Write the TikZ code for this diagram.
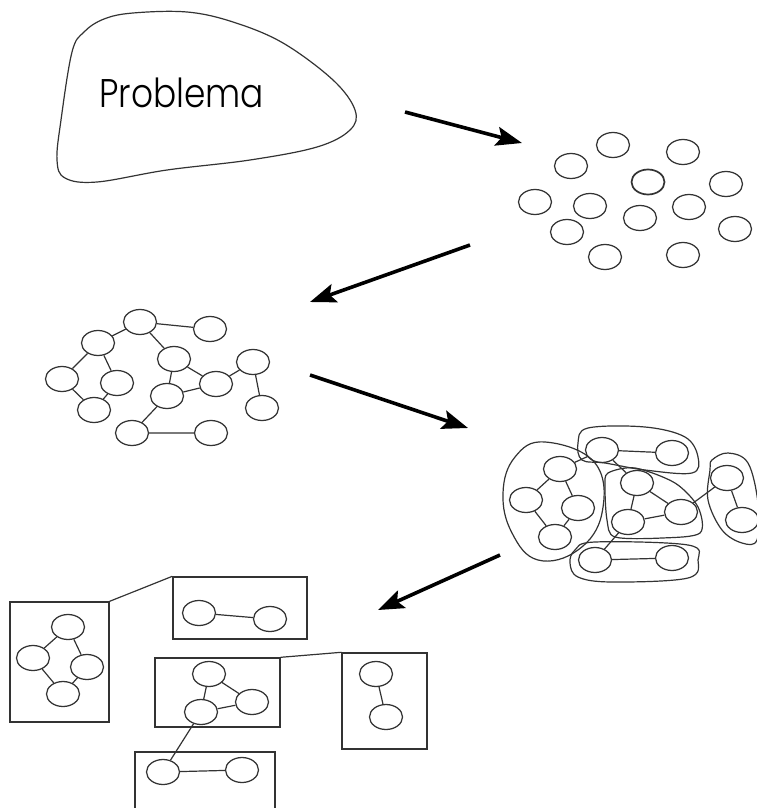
\documentclass[tikz,border=0pt]{standalone}
\usepackage{fontspec}
\newfontfamily\blobfont{Poppins}[UprightFont={* Light}]
\usetikzlibrary{shapes.geometric,arrows.meta}
\definecolor{linegray}{HTML}{333333}
\begin{document}
\begin{tikzpicture}[x=1pt,y=-1pt,
  cell/.style={draw=linegray, line width=1.25pt, ellipse, minimum width=33pt, minimum height=25pt, inner sep=0pt},
  link/.style={draw=linegray, line width=1.2pt},
  hull/.style={draw=linegray, line width=1.2pt},
  frame/.style={draw=linegray, line width=1.4pt, rectangle, inner sep=0pt},
  flow/.style={draw=black, line width=3.6pt, -{Stealth[length=26pt,width=19pt,inset=5pt]}}
]
\useasboundingbox (0,0) rectangle (757,808);

% --- the problem as a whole ---
\draw[hull, line width=1.2pt] plot[smooth cycle, tension=0.6] coordinates {
  (72,52) (84,32) (104,19) (133,13) (187,12) (233,22) (283,43) (333,80) (355,110) (350,130)
  (317,147) (250,160) (167,170) (97,182) (65,178) (57,160) (61,120)};
\node[font=\blobfont\fontsize{40}{40}\selectfont, anchor=base west, inner sep=0pt, xscale=0.86] (title) at (99,107) {Problema};

% --- loose pieces ---
\node[cell] (p1) at (613,145) {};
\node[cell] (p2) at (683,152) {};
\node[cell] (p3) at (571,166) {};
\node[cell, line width=1.7pt] (p4) at (648,182) {};
\node[cell] (p5) at (726,184) {};
\node[cell] (p6) at (535,202) {};
\node[cell] (p7) at (590,206) {};
\node[cell] (p8) at (689,207) {};
\node[cell] (p9) at (640,218) {};
\node[cell] (p10) at (567,232) {};
\node[cell] (p11) at (735,229) {};
\node[cell] (p12) at (605,257) {};
\node[cell] (p13) at (683,255) {};

% --- pieces linked into a graph ---
\node[cell] (gA) at (140,322) {};
\node[cell] (gB) at (210,329) {};
\node[cell] (gC) at (98,343) {};
\node[cell] (gD) at (174,359) {};
\node[cell] (gE) at (253,362) {};
\node[cell] (gF) at (62,379) {};
\node[cell] (gG) at (117,383) {};
\node[cell] (gH) at (216,384) {};
\node[cell] (gI) at (167,396) {};
\node[cell] (gJ) at (94,410) {};
\node[cell] (gK) at (262,408) {};
\node[cell] (gL) at (132,433) {};
\node[cell] (gM) at (211,433) {};
\draw[link] (gA) -- (gB) (gA) -- (gC) (gA) -- (gD) (gC) -- (gF) (gC) -- (gG)
  (gF) -- (gJ) (gG) -- (gJ) (gD) -- (gH) (gD) -- (gI) (gI) -- (gH)
  (gH) -- (gE) (gE) -- (gK) (gI) -- (gL) (gL) -- (gM);

% --- the graph split into groups ---
\node[cell] (c1) at (602,450) {};
\node[cell] (c2) at (672,453) {};
\node[cell] (c3) at (560,469) {};
\node[cell] (c4) at (637,483) {};
\node[cell] (c5) at (727,478) {};
\node[cell] (c6) at (526,500) {};
\node[cell] (c7) at (578,508) {};
\node[cell] (c8) at (681,512) {};
\node[cell] (c9) at (628,522) {};
\node[cell] (c10) at (742,520) {};
\node[cell] (c11) at (555,537) {};
\node[cell] (c12) at (595,560) {};
\node[cell] (c13) at (672,558) {};
\draw[link] (c1) -- (c2) (c1) -- (c3) (c1) -- (c4) (c3) -- (c6) (c3) -- (c7)
  (c6) -- (c11) (c7) -- (c11) (c4) -- (c8) (c4) -- (c9) (c9) -- (c8)
  (c8) -- (c5) (c5) -- (c10) (c9) -- (c12) (c12) -- (c13);
\draw[hull] plot[smooth cycle, tension=0.7] coordinates {
  (545,442) (595,463) (602,513) (578,550) (538,560) (512,533) (503,493) (515,457)};
\draw[hull] plot[smooth cycle, tension=0.6] coordinates {
  (588,428) (645,427) (685,437) (698,457) (692,473) (645,470) (605,463) (582,460) (578,443)};
\draw[hull] plot[smooth cycle, tension=0.5] coordinates {
  (608,473) (635,468) (675,483) (698,507) (700,533) (662,538) (615,537) (607,520) (605,487)};
\draw[hull] plot[smooth cycle, tension=0.6] coordinates {
  (712,460) (728,453) (748,463) (758,503) (757,540) (742,543) (722,530) (708,500) (710,470)};
\draw[hull] plot[smooth cycle, tension=0.6] coordinates {
  (575,550) (595,542) (688,545) (698,560) (688,578) (612,582) (578,577) (570,563)};

% --- groups turned into separate modules ---
\node[frame, minimum width=99pt, minimum height=120pt] (b1) at (59.5,662) {};
\node[frame, minimum width=134pt, minimum height=62pt] (b2) at (240,608) {};
\node[frame, minimum width=125pt, minimum height=69pt] (b3) at (217.5,692.5) {};
\node[frame, minimum width=85pt, minimum height=96pt] (b4) at (384.5,701) {};
\coordinate (b5nw) at (135,752);
\coordinate (b5ne) at (275,752);
\draw[draw=linegray, line width=1.4pt] (135,809) -- (b5nw) -- (b5ne) -- (275,809);

\node[cell] (m1) at (68,627) {};
\node[cell] (m2) at (33,658) {};
\node[cell] (m3) at (87,667) {};
\node[cell] (m4) at (63,694) {};
\draw[link] (m1) -- (m2) (m1) -- (m3) (m2) -- (m4) (m3) -- (m4);

\node[cell] (m5) at (199,613) {};
\node[cell] (m6) at (270,619) {};
\draw[link] (m5) -- (m6);

\node[cell] (m7) at (209,674) {};
\node[cell] (m8) at (252,702) {};
\node[cell] (m9) at (201,712) {};
\draw[link] (m7) -- (m9) (m7) -- (m8) (m8) -- (m9);

\node[cell] (m10) at (376,674) {};
\node[cell] (m11) at (386,717) {};
\draw[link] (m10) -- (m11);

\node[cell] (m12) at (163,772) {};
\node[cell] (m13) at (242,770) {};
\draw[link] (m12) -- (m13);

\draw[link] (b1.north east) -- (b2.north west);
\draw[link] (b3.north east) -- (b4.north west);
\draw[link] (m9) -- (m12);

% --- arrows between the stages ---
\coordinate (a1s) at (405,112);
\coordinate (a1e) at (522,143);
\coordinate (a2s) at (470,245);
\coordinate (a2e) at (310,302);
\coordinate (a3s) at (310,375);
\coordinate (a3e) at (468,428);
\coordinate (a4s) at (500,555);
\coordinate (a4e) at (378,610);
\draw[flow] (a1s) -- (a1e);
\draw[flow] (a2s) -- (a2e);
\draw[flow] (a3s) -- (a3e);
\draw[flow] (a4s) -- (a4e);
\end{tikzpicture}
\end{document}
